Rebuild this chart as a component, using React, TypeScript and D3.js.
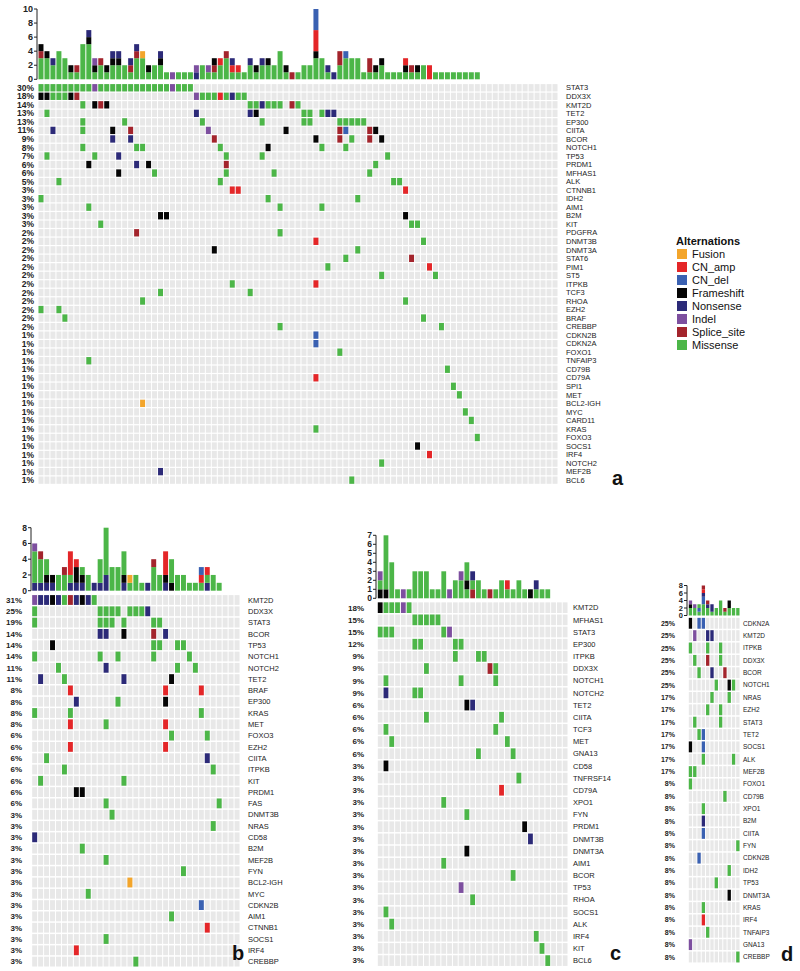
import React from "react";
import * as d3 from "d3";

const FONT = "'Liberation Sans', Arial, Helvetica, sans-serif";

const TYPE_CODES = ["U", "A", "D", "F", "N", "I", "S", "M"];
const TYPE_NAMES = ["Fusion", "CN_amp", "CN_del", "Frameshift", "Nonsense", "Indel", "Splice_site", "Missense"];
const TYPE_COLORS = ["#f3a52b", "#e42628", "#3a61b2", "#050505", "#2c2a78", "#7d4f9f", "#a3242c", "#4cb648"];

// ---------------- Panel a ----------------
const genesA = ["STAT3", "DDX3X", "KMT2D", "TET2", "EP300", "CIITA", "BCOR", "NOTCH1", "TP53", "PRDM1", "MFHAS1", "ALK", "CTNNB1", "IDH2", "AIM1", "B2M", "KIT", "PDGFRA", "DNMT3B", "DNMT3A", "STAT6", "PIM1", "ST5", "ITPKB", "TCF3", "RHOA", "EZH2", "BRAF", "CREBBP", "CDKN2B", "CDKN2A", "FOXO1", "TNFAIP3", "CD79B", "CD79A", "SPI1", "MET", "BCL2-IGH", "MYC", "CARD11", "KRAS", "FOXO3", "SOCS1", "IRF4", "NOTCH2", "MEF2B", "BCL6"];
const pctA = [30, 18, 14, 13, 13, 11, 9, 8, 7, 6, 6, 5, 3, 3, 3, 3, 3, 2, 2, 2, 2, 2, 2, 2, 2, 2, 2, 2, 2, 1, 1, 1, 1, 1, 1, 1, 1, 1, 1, 1, 1, 1, 1, 1, 1, 1, 1];
const mutA = [
  "0-8M 9I 10-21M 22I 23-25M",
  "0F 1F 2-4M 5F 6S 26I 27-29M 30A 31M 32N 33M 34M",
  "7M 9F 10S 11F 35M 36M 37N 38-40M 42S 43M",
  "1M 26N 35N 36F 44M 45M 47M 48N 49N",
  "7M 14M 27M 37M 44M 45M 50-54M",
  "2N 7M 12F 15S 28I 41F 50S 51D 55S 56F",
  "12N 15N 29S 46F 50S 52M 55S 57F",
  "7M 16M 17M 30M 38F 47M 51M",
  "1M 9M 13N 31M 37M 58M",
  "8F 16N 18F 31S 56M",
  "13F 19M 31M 39M 55M",
  "3M 30M 59M 60M",
  "32A 33A 61A",
  "0M 38M 53M",
  "8M 40M 47M",
  "20F 21F 61F",
  "10M 62M 63M",
  "16S 40M",
  "46A 64M",
  "29F 53M",
  "51M 62S",
  "48M 65A",
  "57M 66M",
  "32M 46A",
  "20M 35M",
  "17M 61M",
  "0M 3M",
  "4M 64M",
  "40M 67M",
  "46D",
  "46D",
  "50M",
  "8M",
  "68M",
  "46A",
  "69M",
  "70M",
  "17U",
  "71M",
  "72M",
  "46M",
  "73M",
  "63F",
  "65A",
  "57M",
  "20N",
  "52M",
];
const barsA = ["MMMSF", "MMMF", "MMN", "MMMM", "MMM", "MF", "MS", "MMMMM", "MMMMMFN", "MFI", "MMS", "MF", "MMFN", "MMFN", "MM", "MSN", "MMMSN", "MMMU", "MF", "MM", "MMFN", "M", "I", "M", "M", "M", "NI", "MM", "MI", "MSF", "MMA", "MMMS", "MAN", "MA", "M", "MMN", "MF", "MMN", "MMF", "MM", "MMMM", "MF", "S", "M", "MM", "MM", "MMMFAAADDD", "MMM", "MN", "N", "MMSS", "MMMD", "MMM", "MMM", "M", "MSS", "MF", "MMF", "M", "M", "M", "MFA", "MS", "MF", "MM", "AA", "M", "M", "M", "M", "M", "M", "M", "M"];
const ticksA = [0, 2, 4, 6, 8, 10];

// ---------------- Panel b ----------------
const genesB = ["KMT2D", "DDX3X", "STAT3", "BCOR", "TP53", "NOTCH1", "NOTCH2", "TET2", "BRAF", "EP300", "KRAS", "MET", "FOXO3", "EZH2", "CIITA", "ITPKB", "KIT", "PRDM1", "FAS", "DNMT3B", "NRAS", "CD58", "B2M", "MEF2B", "FYN", "BCL2-IGH", "MYC", "CDKN2B", "AIM1", "CTNNB1", "SOCS1", "IRF4", "CREBBP"];
const pctB = [31, 25, 19, 14, 14, 14, 11, 11, 8, 8, 8, 8, 6, 6, 6, 6, 6, 6, 6, 3, 3, 3, 3, 3, 3, 3, 3, 3, 3, 3, 3, 3, 3];
const mutB = [
  "0I 1N 2N 3F 4N 5M 6S 7N 8F 9N 10M",
  "0M 11-14M 16-18M 19N",
  "0M 11-13M 15M 20M 21M",
  "11N 12N 15F 20S 22N",
  "3F 20M 21M 24M 25M",
  "0M 11M 14M 20M 26M",
  "4M 12N 24M 27M",
  "1N 5M 15N 23F",
  "6A 22A 28A",
  "7N 14M 22F",
  "0M 6M 28M",
  "6A 12M 22A",
  "23M 29M",
  "6A 22A",
  "2M 29N",
  "5M 30M",
  "1M 15M",
  "7F 8F",
  "12M 31M",
  "13M",
  "30M",
  "0N",
  "8M",
  "12M",
  "25M",
  "16U",
  "9M",
  "28D",
  "23M",
  "29A",
  "12M",
  "7A",
  "17M",
];
const barsB = ["NMMMMI", "NMMMS", "NFMM", "NF", "MM", "MMS", "NMAAA", "NFFA", "NFM", "MM", "N", "NMMM", "NNMMMMMM", "MMM", "MMM", "NFMMM", "MU", "MM", "M", "N", "MMMS", "MM", "NFAAA", "FMMM", "MM", "MM", "M", "M", "MAD", "NMA", "MM", "M"];
const ticksB = [0, 2, 4, 6, 8];

// ---------------- Panel c ----------------
const genesC = ["KMT2D", "MFHAS1", "STAT3", "EP300", "ITPKB", "DDX3X", "NOTCH1", "NOTCH2", "TET2", "CIITA", "TCF3", "MET", "GNA13", "CD58", "TNFRSF14", "CD79A", "XPO1", "FYN", "PRDM1", "DNMT3B", "DNMT3A", "AIM1", "BCOR", "TP53", "RHOA", "SOCS1", "ALK", "IRF4", "KIT", "BCL6"];
const pctC = [18, 15, 15, 12, 9, 9, 9, 9, 6, 6, 6, 6, 6, 3, 3, 3, 3, 3, 3, 3, 3, 3, 3, 3, 3, 3, 3, 3, 3, 3];
const mutC = [
  "0F 1-3M 4I 5M",
  "6-10M",
  "0-2M 11M 12I",
  "6M 7M 13M 14M",
  "13M 17M 18M",
  "8M 19S 20M",
  "1M 14M 20M",
  "1N 6M 7M",
  "15F 16N",
  "8M 21M",
  "1M 20M",
  "2M 22M",
  "17M 23M",
  "1F",
  "24M",
  "21A",
  "11M",
  "15M",
  "25F",
  "26N",
  "15F",
  "11M",
  "23M",
  "14I",
  "16M",
  "1M",
  "2M",
  "27M",
  "28M",
  "29M",
];
const barsC = ["FMI", "FMMMMMM", "MMMM", "M", "I", "M", "MMM", "MMM", "MMM", "M", "M", "MMM", "I", "MM", "MMI", "MFMM", "SMN", "MM", "M", "S", "M", "MM", "MA", "M", "MM", "M", "F", "MN", "M", "M"];
const ticksC = [0, 1, 2, 3, 4, 5, 6, 7];

// ---------------- Panel d ----------------
const genesD = ["CDKN2A", "KMT2D", "ITPKB", "DDX3X", "BCOR", "NOTCH1", "NRAS", "EZH2", "STAT3", "TET2", "SOCS1", "ALK", "MEF2B", "FOXO1", "CD79B", "XPO1", "B2M", "CIITA", "FYN", "CDKN2B", "IDH2", "TP53", "DNMT3A", "KRAS", "IRF4", "TNFAIP3", "GNA13", "CREBBP"];
const pctD = [25, 25, 25, 25, 25, 25, 17, 17, 17, 17, 17, 17, 17, 8, 8, 8, 8, 8, 8, 8, 8, 8, 8, 8, 8, 8, 8, 8];
const mutD = [
  "0F 2D 3D",
  "1I 4N 5N",
  "0M 4M 7M",
  "1M 4S 7M",
  "2M 5N 8S",
  "6M 9F 10M",
  "5M 9M",
  "4M 7M",
  "1M 7M",
  "2M 3D",
  "0F 3D",
  "3M 10M",
  "0M 1M",
  "0M",
  "8M",
  "3M",
  "3N",
  "3D",
  "11M",
  "2D",
  "9M",
  "6M",
  "9F",
  "3M",
  "3A",
  "4M",
  "0I",
  "11M",
];
const barsD = ["MMFI", "MMI", "MDM", "MMMDDNAS", "MMNS", "MNN", "MM", "MMMM", "MS", "MMFF", "MM", "MM"];
const ticksD = [0, 2, 4, 6, 8];

type Cfg = {
  genes: string[]; pct: number[]; mut: string[]; bars: string[]; ticks: number[];
  x0: number; x1: number; nCols: number; rowTop: number; rowH: number;
  barBase: number; barMax: number; barTop: number; axisX: number;
  pctRight: number; labelX: number; fs: number; pfs: number; tfs: number;
  letter: string; letterX: number; letterY: number; rowGap: number;
};

function parseMut(s: string) {
  const out: { c: number; t: string }[] = [];
  s.split(/\s+/).filter(Boolean).forEach((tok) => {
    const m = tok.match(/^(\d+)(?:-(\d+))?([A-Z])$/);
    if (!m) return;
    const a = +m[1];
    const b = m[2] ? +m[2] : a;
    for (let c = a; c <= b; c++) out.push({ c, t: m[3] });
  });
  return out;
}

const colorOf = (t: string) => TYPE_COLORS[TYPE_CODES.indexOf(t)];

function Panel({ cfg }: { cfg: Cfg }) {
  const { genes, pct, mut, bars, ticks, x0, x1, nCols, rowTop, rowH, barBase, barMax, barTop, axisX, pctRight, labelX, fs, pfs, tfs, letter, letterX, letterY, rowGap } = cfg;
  const x = d3.scaleLinear().domain([0, nCols]).range([x0, x1]);
  const y = d3.scaleBand<string>().domain(genes).range([rowTop, rowTop + rowH * genes.length]).paddingInner(0);
  const yb = d3.scaleLinear().domain([0, barMax]).range([barBase, barTop]);
  const cw = x(1) - x(0);
  const cols = d3.range(nCols);

  const barRects: JSX.Element[] = [];
  bars.forEach((s, c) => {
    let i = 0;
    while (i < s.length) {
      let j = i;
      while (j < s.length && s[j] === s[i]) j++;
      barRects.push(
        <rect key={`b${c}-${i}`} x={x(c) + 0.5} width={cw - 1} y={yb(j)} height={yb(i) - yb(j)} fill={colorOf(s[i])} />
      );
      i = j;
    }
  });

  return (
    <g>
      <line x1={axisX} x2={axisX} y1={yb(0)} y2={yb(barMax)} stroke="#222" strokeWidth={1} />
      {ticks.map((t) => (
        <g key={`t${t}`}>
          <line x1={axisX - 3} x2={axisX} y1={yb(t)} y2={yb(t)} stroke="#222" strokeWidth={1} />
          <text x={axisX - 4} y={yb(t)} dy="0.35em" textAnchor="end" fontSize={tfs} fontFamily={FONT} fontWeight="bold" fill="#222">{t}</text>
        </g>
      ))}
      {barRects}
      {genes.map((g) => (
        <g key={`r${g}`}>
          {cols.map((c) => (
            <rect key={c} x={x(c) + 0.5} y={(y(g) as number) + rowGap / 2} width={cw - 1} height={y.bandwidth() - rowGap} fill="#e8e8e8" />
          ))}
        </g>
      ))}
      {genes.map((g, r) =>
        parseMut(mut[r]).map(({ c, t }) => (
          <rect key={`m${g}-${c}`} x={x(c) + 0.5} y={(y(g) as number) + rowGap / 2} width={cw - 1} height={y.bandwidth() - rowGap} fill={colorOf(t)} />
        ))
      )}
      {genes.map((g, r) => (
        <text key={`p${g}`} x={pctRight} y={(y(g) as number) + y.bandwidth() / 2} dy="0.36em" textAnchor="end" fontSize={pfs} fontFamily={FONT} fontWeight="bold" fill="#222">{pct[r]}%</text>
      ))}
      {genes.map((g) => (
        <text key={`g${g}`} x={labelX} y={(y(g) as number) + y.bandwidth() / 2} dy="0.36em" fontSize={fs} fontFamily={FONT} fill="#222">{g}</text>
      ))}
      <text x={letterX} y={letterY} fontSize={20} fontWeight="bold" fontFamily={FONT} fill="#111">{letter}</text>
    </g>
  );
}

const cfgA: Cfg = { genes: genesA, pct: pctA, mut: mutA, bars: barsA, ticks: ticksA, x0: 38, x1: 558, nCols: 87, rowTop: 83.5, rowH: 8.53, barBase: 79.3, barMax: 10, barTop: 9, axisX: 37, pctRight: 34, labelX: 566, fs: 7.5, pfs: 8.5, tfs: 9, letter: "a", letterX: 612, letterY: 485, rowGap: 1.2 };
const cfgB: Cfg = { genes: genesB, pct: pctB, mut: mutB, bars: barsB, ticks: ticksB, x0: 31.7, x1: 240, nCols: 35, rowTop: 594.35, rowH: 11.3, barBase: 590.7, barMax: 8, barTop: 527.7, axisX: 31, pctRight: 22, labelX: 248, fs: 7.5, pfs: 8, tfs: 8.5, letter: "b", letterX: 232, letterY: 960, rowGap: 1.5 };
const cfgC: Cfg = { genes: genesC, pct: pctC, mut: mutC, bars: barsC, ticks: ticksC, x0: 377.3, x1: 568, nCols: 33, rowTop: 601.6, rowH: 12.17, barBase: 598.3, barMax: 7, barTop: 535.3, axisX: 376, pctRight: 364, labelX: 573, fs: 7.5, pfs: 8, tfs: 8.5, letter: "c", letterX: 610, letterY: 960, rowGap: 1.5 };
const cfgD: Cfg = { genes: genesD, pct: pctD, mut: mutD, bars: barsD, ticks: ticksD, x0: 688.3, x1: 740, nCols: 12, rowTop: 617.1, rowH: 12.36, barBase: 615.5, barMax: 8, barTop: 585.5, axisX: 687, pctRight: 675, labelX: 743, fs: 6.5, pfs: 7, tfs: 7.5, letter: "d", letterX: 781, letterY: 961, rowGap: 1.5 };

export default function App() {
  return (
    <svg width={800} height={971} style={{ position: "absolute", left: 0, top: 0, background: "#fff" }}>
      <rect width={800} height={971} fill="#fff" />
      <Panel cfg={cfgA} />
      <Panel cfg={cfgB} />
      <Panel cfg={cfgC} />
      <Panel cfg={cfgD} />
      <g fontFamily={FONT}>
        <text x={676} y={245} fontSize={11} fontWeight="bold" fill="#111">Alternations</text>
        {TYPE_NAMES.map((n, i) => (
          <g key={n}>
            <rect x={677} y={249 + i * 13} width={10} height={10} fill={TYPE_COLORS[i]} />
            <text x={692} y={258 + i * 13} fontSize={11} fill="#111">{n}</text>
          </g>
        ))}
      </g>
    </svg>
  );
}
